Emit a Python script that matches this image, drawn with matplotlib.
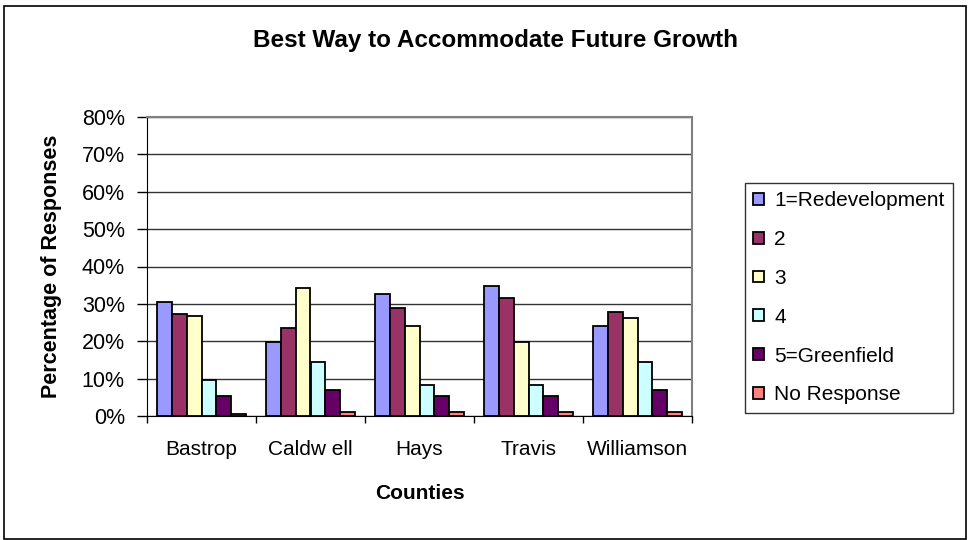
import matplotlib.pyplot as plt
import numpy as np
from matplotlib import patches
from matplotlib.ticker import PercentFormatter

plt.rcParams['font.family'] = ['Liberation Sans', 'DejaVu Sans']

counties = ['Bastrop', 'Caldw ell', 'Hays', 'Travis', 'Williamson']
series = ['1=Redevelopment', '2', '3', '4', '5=Greenfield', 'No Response']
colors = ['#9999FF', '#993366', '#FFFFCC', '#CCFFFF', '#660066', '#FF8080']

redevelopment = [30.5, 19.7, 32.6, 34.8, 24.0]
level_2 = [27.3, 23.5, 28.8, 31.5, 27.8]
level_3 = [26.7, 34.2, 24.0, 19.8, 26.2]
level_4 = [9.6, 14.4, 8.4, 8.4, 14.4]
greenfield = [5.3, 6.9, 5.3, 5.3, 6.9]
no_response = [0.6, 1.1, 1.1, 1.1, 1.1]

values = [redevelopment, level_2, level_3, level_4, greenfield, no_response]

fig = plt.figure(figsize=(968 / 100, 540 / 100), dpi=100)
ax = fig.add_axes([147 / 968, 1 - 416 / 540, 545 / 968, 299 / 540])

# chart border round the whole figure
fig.patches.append(patches.Rectangle((4 / 968, 1 / 540), 962 / 968, 533 / 540,
                                     transform=fig.transFigure, fill=False,
                                     edgecolor='black', linewidth=1.2))

x = np.arange(len(counties))
width = 0.135
for i, (vals, name, col) in enumerate(zip(values, series, colors)):
    offset = (i - 2.5) * width
    ax.bar(x + offset, vals, width, color=col, edgecolor='black',
           linewidth=1.3, label=name, zorder=3)

ax.set_xlim(-0.5, len(counties) - 0.5)
ax.set_ylim(0, 80)
ax.set_yticks(np.arange(0, 81, 10))
ax.yaxis.set_major_formatter(PercentFormatter(decimals=0))
ax.set_xticks(np.arange(-0.5, len(counties), 1.0))
ax.set_xticklabels([])
ax.set_xticks(x, minor=True)
ax.set_xticklabels(counties, minor=True)
ax.tick_params(axis='x', which='minor', length=0, pad=17, labelsize=15)
ax.tick_params(axis='x', which='major', direction='out', length=5, width=1)
ax.tick_params(axis='y', direction='out', length=7, width=1, labelsize=15.5, pad=9)

ax.grid(axis='y', color='#333333', linewidth=1, zorder=0)
for side in ['top', 'right']:
    ax.spines[side].set_color('#808080')
    ax.spines[side].set_linewidth(1.5)
ax.spines['left'].set_color('black')
ax.spines['bottom'].set_color('black')

ax.set_ylabel('Percentage of Responses', fontsize=15.5, fontweight='bold', labelpad=14)
ax.set_xlabel('Counties', fontsize=15, fontweight='bold', labelpad=18)
fig.text(0.5 * (232 + 760) / 968, 1 - 40 / 540, 'Best Way to Accommodate Future Growth',
         ha='center', va='center', fontsize=17.5, fontweight='bold')

leg = ax.legend(loc='upper left', bbox_to_anchor=(745 / 968, 1 - 183 / 540),
                bbox_transform=fig.transFigure, fontsize=15, frameon=True,
                fancybox=False, edgecolor='black', handlelength=0.5,
                handleheight=0.5, handletextpad=0.5, labelspacing=0.95,
                borderpad=0.4, borderaxespad=0)
leg.get_frame().set_linewidth(1)

fig.savefig('out.png', dpi=100)
